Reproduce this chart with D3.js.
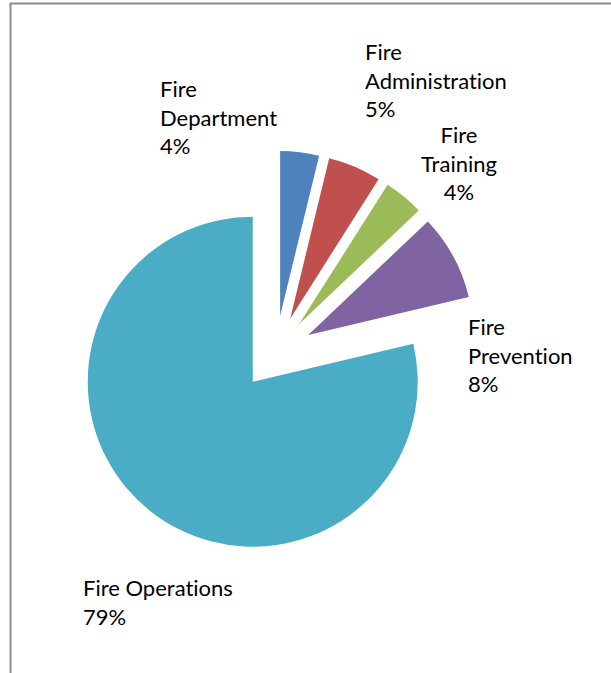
<!DOCTYPE html>
<html>
<head>
<meta charset="utf-8">
<script src="https://cdn.jsdelivr.net/npm/d3@7"></script>
<style>
  body { margin: 0; background: #fff; }
  svg { display: block; }
  .lbl { font-family: Lato, "Open Sans", sans-serif; font-size: 22px; fill: #000; font-variant-ligatures: none; }
</style>
</head>
<body>
<svg id="chart" width="611" height="673"></svg>
<script>
// budget shares (percent)
const categories = ["Fire Department", "Fire Administration", "Fire Training", "Fire Prevention", "Fire Operations"];
const shares = [3.8, 5.2, 3.9, 8.4, 78.7];
const colors = ["#4F81BD", "#C0504D", "#9BBB59", "#8064A2", "#4BACC6"];

// label layout: first line baseline + alignment
const labelLayout = [
  {x: 160, y: 97, anchor: "start", lines: ["Fire", "Department"]},
  {x: 365, y: 60, anchor: "start", lines: ["Fire", "Administration"]},
  {x: 459, y: 143, anchor: "middle", lines: ["Fire", "Training"]},
  {x: 468, y: 335, anchor: "start", lines: ["Fire", "Prevention"]},
  {x: 83, y: 596, anchor: "start", lines: ["Fire Operations"]}
];

const W = 611, H = 673;
const cx = 275.7, cy = 352.7;
const radius = 165;
const explode = 37;
const lineH = 28.6;

const svg = d3.select("#chart");

// outer chart frame (runs past the right/bottom of the window)
svg.append("rect")
  .attr("x", 10.5).attr("y", 3.5)
  .attr("width", W + 20).attr("height", H + 20)
  .attr("fill", "none")
  .attr("stroke", "#8c8c8c")
  .attr("stroke-width", 2);

const data = categories.map((c, i) => ({name: c, value: shares[i], color: colors[i]}));

const pie = d3.pie().value(d => d.value).sort(null);
const arc = d3.arc().innerRadius(0).outerRadius(radius);

const g = svg.append("g").attr("transform", `translate(${cx},${cy})`);

g.selectAll("path.slice")
  .data(pie(data))
  .join("path")
  .attr("class", "slice")
  .attr("fill", d => d.data.color)
  .attr("d", arc)
  .attr("transform", d => {
    const mid = (d.startAngle + d.endAngle) / 2;
    return `translate(${Math.sin(mid) * explode},${-Math.cos(mid) * explode})`;
  });

const total = d3.sum(shares);

svg.selectAll("text.lbl")
  .data(data)
  .join("text")
  .attr("class", "lbl")
  .attr("text-anchor", (d, i) => labelLayout[i].anchor)
  .each(function(d, i) {
    const L = labelLayout[i];
    const t = d3.select(this);
    const lines = L.lines.concat([Math.round(d.value / total * 100) + "%"]);
    lines.forEach((s, j) => {
      t.append("tspan")
        .attr("x", L.x)
        .attr("y", L.y + j * lineH)
        .text(s);
    });
  });
</script>
</body>
</html>
